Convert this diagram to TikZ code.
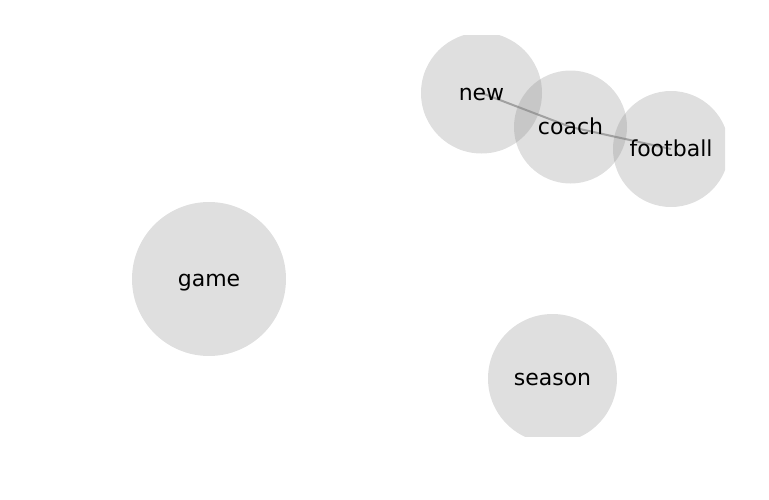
\documentclass[tikz,border=0pt]{standalone}
\usepackage{fontspec}
\setmainfont{DejaVu Sans}
\usetikzlibrary{backgrounds}
\tikzset{
  word/.style={circle, fill=black!47, fill opacity=0.27, text opacity=1, inner sep=0pt,
    text height=11pt, text depth=0pt, font=\fontsize{16.5}{19}\selectfont},
  link/.style={draw=black!33, line width=1.5pt}
}

\begin{document}
\begin{tikzpicture}[x=0.75pt, y=-0.75pt]
  \useasboundingbox (0,0) rectangle (769,500);
  \begin{scope}
  \clip (44,35) rectangle (725,436);
  % Word bubbles
  \node[word, minimum size=90.75pt] (new) at (481.5,93) {new};
  \node[word, minimum size=84.75pt] (coach) at (570.5,127) {coach};
  \node[word, minimum size=87pt] (football) at (671,149) {football};
  \node[word, minimum size=115.5pt] (game) at (209,279) {game};
  \node[word, minimum size=96.75pt] (season) at (552.5,378.5) {season};
  % Co-occurrence links
  \begin{scope}[on background layer]
    \draw[link] (new.center) -- (coach.center);
    \draw[link] (coach.center) -- (football.center);
  \end{scope}
  \end{scope}
\end{tikzpicture}
\end{document}
